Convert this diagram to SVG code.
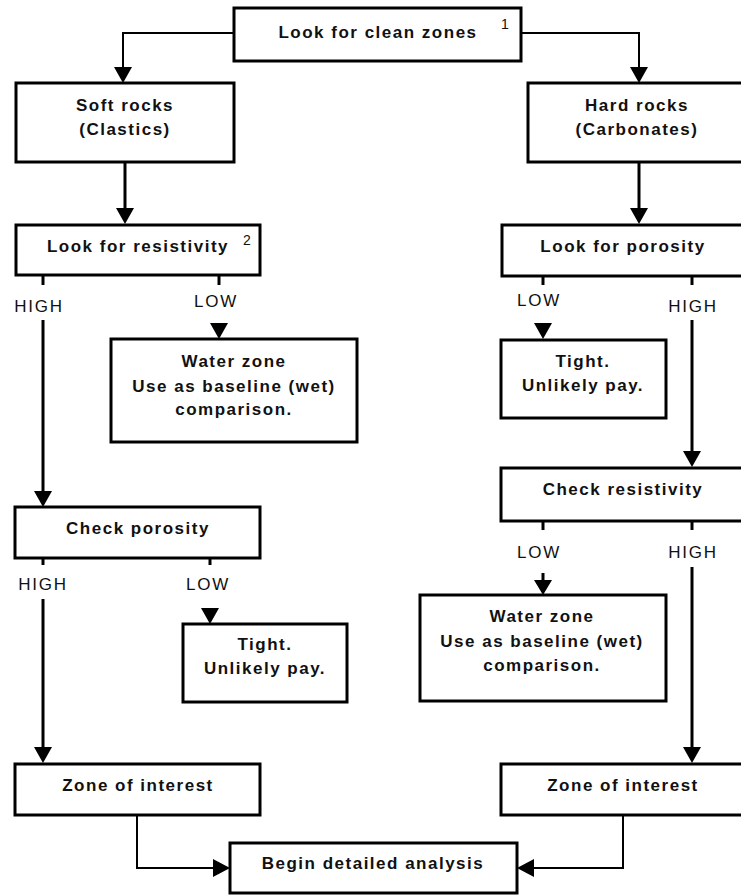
<svg xmlns="http://www.w3.org/2000/svg" width="741" height="895" viewBox="0 0 741 895">
<defs>
<style>
.box{fill:#fff;stroke:#000;stroke-width:3}
.t{font-family:"Liberation Sans",Arial,sans-serif;font-weight:bold;font-size:17px;text-anchor:middle;fill:#111;letter-spacing:1.5px}
.lab{font-family:"Liberation Sans",Arial,sans-serif;font-size:17px;text-anchor:middle;fill:#111;letter-spacing:1.8px}
.sup{font-family:"Liberation Sans",Arial,sans-serif;font-size:14px;fill:#111}
.c{fill:none;stroke:#000;stroke-width:3}
.c2{fill:none;stroke:#000;stroke-width:2}
.hd{fill:#000}
</style>
</defs>
<rect width="741" height="895" fill="#fff"/>
<g id="connectors">
<polyline class="c2" points="234,33 123,33 123,68"/>
<polygon class="hd" points="114,67 132,67 123,83"/>
<polyline class="c2" points="521,33 639,33 639,68"/>
<polygon class="hd" points="630,67 648,67 639,83"/>
<line class="c" x1="125" y1="162" x2="125" y2="210"/>
<polygon class="hd" points="116,208 134,208 125,224"/>
<line class="c" x1="639" y1="162" x2="639" y2="210"/>
<polygon class="hd" points="630,208 648,208 639,224"/>
<line class="c" x1="43" y1="275" x2="43" y2="285"/>
<line class="c" x1="43" y1="320" x2="43" y2="492"/>
<polygon class="hd" points="34,491 52,491 43,507"/>
<line class="c" x1="219" y1="275" x2="219" y2="285"/>
<polygon class="hd" points="210,323 228,323 219,339"/>
<line class="c" x1="543" y1="276" x2="543" y2="285"/>
<polygon class="hd" points="534,323 552,323 543,339"/>
<line class="c" x1="692" y1="276" x2="692" y2="285"/>
<line class="c" x1="692" y1="320" x2="692" y2="452"/>
<polygon class="hd" points="683,451 701,451 692,467"/>
<line class="c" x1="543" y1="521" x2="543" y2="530"/>
<line class="c" x1="543" y1="573" x2="543" y2="582"/>
<polygon class="hd" points="534,580 552,580 543,595"/>
<line class="c" x1="692" y1="521" x2="692" y2="530"/>
<line class="c" x1="692" y1="567" x2="692" y2="748"/>
<polygon class="hd" points="683,747 701,747 692,763"/>
<line class="c" x1="43" y1="558" x2="43" y2="565"/>
<line class="c" x1="43" y1="599" x2="43" y2="748"/>
<polygon class="hd" points="34,747 52,747 43,763"/>
<line class="c" x1="210" y1="558" x2="210" y2="565"/>
<polygon class="hd" points="201,608 219,608 210,624"/>
<polyline class="c2" points="137,815 137,868 214,868"/>
<polygon class="hd" points="213,859 213,877 230,868"/>
<polyline class="c2" points="623,815 623,868 533,868"/>
<polygon class="hd" points="534,859 534,877 517,868"/>
</g>
<g id="n-clean">
<rect class="box" x="234" y="8" width="287" height="53"/>
<text class="t" x="378" y="38">Look for clean zones</text>
<text class="sup" x="501" y="29">1</text>
</g>
<g id="n-soft">
<rect class="box" x="16" y="83" width="218" height="79"/>
<text class="t" x="125" y="111">Soft rocks</text>
<text class="t" x="125" y="135">(Clastics)</text>
</g>
<g id="n-hard">
<rect class="box" x="528" y="83" width="216" height="79"/>
<text class="t" x="637" y="111">Hard rocks</text>
<text class="t" x="637" y="135">(Carbonates)</text>
</g>
<g id="n-lookres">
<rect class="box" x="16" y="225" width="244" height="50"/>
<text class="t" x="138" y="252">Look for resistivity</text>
<text class="sup" x="243" y="245">2</text>
</g>
<g id="n-lookpor">
<rect class="box" x="502" y="225" width="242" height="51"/>
<text class="t" x="623" y="252">Look for porosity</text>
</g>
<g id="labels">
<text class="lab" x="39" y="312">HIGH</text>
<text class="lab" x="216" y="307">LOW</text>
<text class="lab" x="539" y="306">LOW</text>
<text class="lab" x="693" y="312">HIGH</text>
<text class="lab" x="539" y="558">LOW</text>
<text class="lab" x="693" y="558">HIGH</text>
<text class="lab" x="43" y="590">HIGH</text>
<text class="lab" x="208" y="590">LOW</text>
</g>
<g id="n-water1">
<rect class="box" x="111" y="339" width="246" height="103"/>
<text class="t" x="234" y="367">Water zone</text>
<text class="t" x="234" y="392">Use as baseline (wet)</text>
<text class="t" x="234" y="415">comparison.</text>
</g>
<g id="n-tight1">
<rect class="box" x="501" y="340" width="165" height="78"/>
<text class="t" x="583" y="367">Tight.</text>
<text class="t" x="583" y="391">Unlikely pay.</text>
</g>
<g id="n-checkres">
<rect class="box" x="501" y="468" width="243" height="53"/>
<text class="t" x="623" y="495">Check resistivity</text>
</g>
<g id="n-checkpor">
<rect class="box" x="15" y="507" width="245" height="51"/>
<text class="t" x="138" y="534">Check porosity</text>
</g>
<g id="n-water2">
<rect class="box" x="420" y="595" width="246" height="106"/>
<text class="t" x="542" y="622">Water zone</text>
<text class="t" x="542" y="647">Use as baseline (wet)</text>
<text class="t" x="542" y="671">comparison.</text>
</g>
<g id="n-tight2">
<rect class="box" x="183" y="624" width="164" height="78"/>
<text class="t" x="265" y="650">Tight.</text>
<text class="t" x="265" y="674">Unlikely pay.</text>
</g>
<g id="n-zoi1">
<rect class="box" x="15" y="764" width="245" height="51"/>
<text class="t" x="138" y="791">Zone of interest</text>
</g>
<g id="n-zoi2">
<rect class="box" x="501" y="764" width="243" height="51"/>
<text class="t" x="623" y="791">Zone of interest</text>
</g>
<g id="n-begin">
<rect class="box" x="230" y="843" width="287" height="50"/>
<text class="t" x="373" y="869">Begin detailed analysis</text>
</g>
</svg>
